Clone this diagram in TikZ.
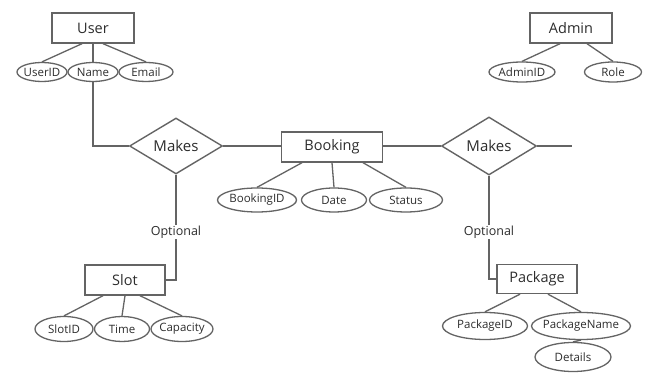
\documentclass[tikz,border=0pt]{standalone}
\usepackage{fontspec}
\setmainfont{Open Sans}
\usetikzlibrary{shapes.geometric}
\definecolor{linec}{RGB}{100,100,100}
\definecolor{textc}{RGB}{45,45,45}
\newcommand\ctrtxt[1]{\makebox[0pt][c]{#1}}
\begin{document}
\begin{tikzpicture}[x=1pt,y=-1pt,
  every node/.style={text=textc},
  entity/.style={draw=linec, line width=1.4pt, minimum height=30pt, inner sep=0pt, font=\fontsize{14.5}{16}\selectfont},
  attr/.style={ellipse, draw=linec, line width=1.3pt, minimum height=20pt, inner sep=0pt, font=\fontsize{11.5}{13}\selectfont},
  rel/.style={diamond, draw=linec, line width=1.4pt, aspect=1.6, inner sep=0pt, minimum width=93pt, minimum height=56pt, font=\fontsize{15}{17}\selectfont},
  lbl/.style={inner sep=1pt, font=\fontsize{12.5}{14}\selectfont},
  conn/.style={draw=linec, line width=1.3pt}]
\useasboundingbox (0,0) rectangle (657,374);
\fill[white] (0,0) rectangle (657,374);
% User
\node[entity, minimum width=82pt] (user) at (93,28) {User};
\node[attr, minimum width=50pt, minimum height=19pt] (userid) at (42,72) {\ctrtxt{UserID}};
\node[attr, minimum width=50pt, minimum height=19pt] (name) at (93,72) {\ctrtxt{Name}};
\node[attr, minimum width=54pt, minimum height=19pt] (email) at (146,72) {\ctrtxt{Email}};
% Makes 1
\node[rel] (makes1) at (176,146) {\ctrtxt{Makes}};
% Booking
\node[entity, minimum width=101pt] (booking) at (332,147) {Booking};
\node[attr, minimum width=79pt, minimum height=24pt] (bookingid) at (257,200) {\ctrtxt{BookingID}};
\node[attr, minimum width=65pt, minimum height=24pt] (date) at (334,200) {\ctrtxt{Date}};
\node[attr, minimum width=73pt, minimum height=24pt] (status) at (406,200) {\ctrtxt{Status}};
% Makes 2
\node[rel, minimum width=95pt, minimum height=58pt] (makes2) at (489,146) {\ctrtxt{Makes}};
\coordinate (rend) at (572,146);
% Optional labels
\node[lbl] (opt1) at (176,232) {Optional};
\node[lbl] (opt2) at (489,232) {Optional};
% Slot
\node[entity, minimum width=80pt] (slot) at (125,280) {Slot};
\node[attr, minimum width=58pt, minimum height=25pt] (slotid) at (64,329) {\ctrtxt{SlotID}};
\node[attr, minimum width=55pt, minimum height=25pt] (time) at (122,329) {\ctrtxt{Time}};
\node[attr, minimum width=62pt, minimum height=25pt] (capacity) at (182,329) {\ctrtxt{Capacity}};
% Package
\node[entity, minimum width=80pt, minimum height=29pt] (package) at (537,279) {Package};
\node[attr, minimum width=85pt, minimum height=27pt] (packageid) at (485,326) {\ctrtxt{PackageID}};
\node[attr, minimum width=99pt, minimum height=27pt] (packagename) at (581,326) {\ctrtxt{PackageName}};
\node[attr, minimum width=76pt, minimum height=29pt] (details) at (573,357) {\ctrtxt{Details}};
% Admin
\node[entity, minimum width=82pt] (admin) at (571,28) {Admin};
\node[attr, minimum width=66pt] (adminid) at (522,72) {\ctrtxt{AdminID}};
\node[attr, minimum width=57pt] (role) at (613,72) {\ctrtxt{Role}};
% connectors
\draw[conn] ([xshift=-11pt]user.south) -- (userid.north);
\draw[conn] (user.south) -- (name.north);
\draw[conn] ([xshift=10pt]user.south) -- (email.north);
\draw[conn] (name.south) |- (makes1.west);
\draw[conn] (makes1.east) -- (makes1.east -| booking.west);
\draw[conn] (booking.east |- makes2.west) -- (makes2.west);
\draw[conn] (makes2.east) -- (rend);
\draw[conn] ([xshift=-30pt]booking.south) -- (bookingid.north);
\draw[conn] (booking.south) -- (date.north);
\draw[conn] ([xshift=31pt]booking.south) -- (status.north);
\draw[conn] (makes1.south) -- (opt1.north);
\draw[conn] (opt1.south) |- (slot.east);
\draw[conn] (makes2.south) -- (opt2.north);
\draw[conn] (opt2.south) |- (package.west);
\draw[conn] ([xshift=-22pt]slot.south) -- (slotid.north);
\draw[conn] (slot.south) -- (time.north);
\draw[conn] ([xshift=15pt]slot.south) -- (capacity.north);
\draw[conn] ([xshift=-17pt]package.south) -- (packageid.north);
\draw[conn] ([xshift=11pt]package.south) -- (packagename.north);
\draw[conn] (packagename.south) -- (details.north);
\draw[conn] ([xshift=-11pt]admin.south) -- (adminid.north);
\draw[conn] ([xshift=16pt]admin.south) -- (role.north);
\end{tikzpicture}
\end{document}
